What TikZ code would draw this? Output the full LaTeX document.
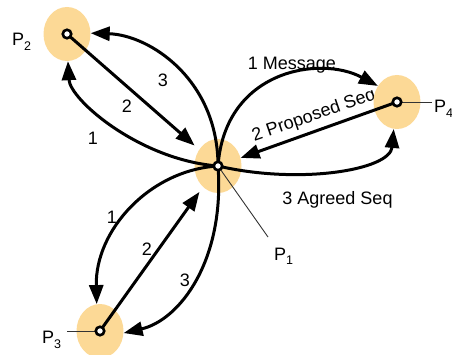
\documentclass[tikz,border=0pt]{standalone}
\usepackage{fontspec}
\setmainfont{Liberation Sans}
\usetikzlibrary{arrows.meta,shapes.geometric}
\definecolor{haloc}{RGB}{252,217,150}
\begin{document}
\begin{tikzpicture}[x=1pt,y=-1pt,
  halo/.style={ellipse,fill=haloc,minimum width=47pt,minimum height=54pt,inner sep=0},
  proc/.style={circle,draw=black,fill=white,line width=2.6pt,minimum size=8.5pt,inner sep=0},
  msg/.style={line width=3pt,-{Triangle[length=19pt,width=14pt]}},
  lbl/.style={font=\fontsize{18}{18}\selectfont,inner sep=0},
  lead/.style={line width=0.9pt,black!80},
  pname/.style={font=\fontsize{18}{18}\selectfont,inner sep=0,anchor=base west}
]
\newcommand{\psub}[1]{\raisebox{-5pt}{\fontsize{12.5}{12.5}\selectfont #1}}
\useasboundingbox (0,0) rectangle (452,355);

% labels (drawn beneath the halos)
\node[lbl,rotate=19] (t42) at (314,116) {2 Proposed Seq};
\node[lbl] (t41) at (292,65.5) {1 Message};
\node[lbl] (t43) at (337.5,199.5) {3 Agreed Seq};
\node[lbl] (t21) at (93,138) {1};
\node[lbl] (t22) at (127,106) {2};
\node[lbl] (t23) at (163,80) {3};
\node[lbl] (t31) at (112,217) {1};
\node[lbl] (t32) at (147,249) {2};
\node[lbl] (t33) at (185,280) {3};

% process names
\node[pname] (n2) at (12,46) {P\psub{2}};
\node[pname] (n3) at (42,343) {P\psub{3}};
\node[pname] (n1) at (274,260) {P\psub{1}};
\node[pname] (n4) at (434,113) {P\psub{4}};

% halos
\node[halo] (o1) at (218,166) {};
\node[halo] (o2) at (67,34) {};
\node[halo] (o3) at (100,331) {};
\node[halo] (o4) at (397,102) {};

% leader lines
\coordinate (l1) at (268,237);
\coordinate (l3) at (67,331);
\coordinate (l4) at (432,102);
\draw[lead] (o1.center) -- (l1);
\draw[lead] (l3) -- (o3.center);
\draw[lead] (o4.center) -- (l4);

% messages P1 <-> P2
\draw[msg] (o1.center) .. controls (140,160) and (70,100) .. (o2.-88);
\draw[msg,shorten >=6pt] (o2.center) -- (o1);
\draw[msg] (o1.center) .. controls (218,80) and (150,35) .. (o2.2);

% messages P1 <-> P4
\draw[msg] (o1.center) .. controls (225,70) and (320,55) .. (o4.140);
\draw[msg] (o4.center) -- (o1);
\draw[msg] (o1.center) .. controls (300,185) and (390,170) .. (o4.-97);

% messages P1 <-> P3
\draw[msg] (o1.center) .. controls (150,170) and (95,230) .. (o3.97);
\draw[msg,shorten >=6pt] (o3.center) -- (o1);
\draw[msg] (o1.center) .. controls (225,260) and (180,320) .. (o3.-5);

% processes
\node[proc] (p1) at (o1.center) {};
\node[proc] (p2) at (o2.center) {};
\node[proc] (p3) at (o3.center) {};
\node[proc] (p4) at (o4.center) {};
\end{tikzpicture}
\end{document}
